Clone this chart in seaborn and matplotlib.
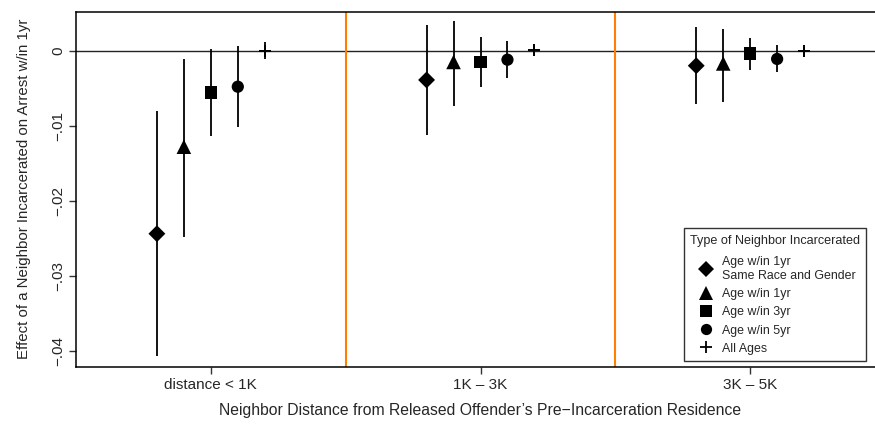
#!/usr/bin/env python
"""
  Neighbor incarceration effects on arrest, by distance band
"""

import matplotlib
matplotlib.use('Agg')
import matplotlib.pyplot as plt
from matplotlib.lines import Line2D
import seaborn as sns
import pandas as pd

# distance bands along the x axis
distances = ["distance < 1K", "1K \u2013 3K", "3K \u2013 5K"]

# neighbor types, in plotting order within each band
types = ["Age w/in 1yr\nSame Race and Gender", "Age w/in 1yr",
         "Age w/in 3yr", "Age w/in 5yr", "All Ages"]

# point estimates, one list per band (same order as types)
est_1k = [-0.0244, -0.0128, -0.0056, -0.0048, 0.0000]
est_3k = [-0.0039, -0.0015, -0.0015, -0.0012, 0.0001]
est_5k = [-0.0020, -0.0017, -0.0004, -0.0011, 0.0000]

# lower / upper confidence bounds
lo_1k = [-0.0407, -0.0249, -0.0114, -0.0102, -0.0011]
hi_1k = [-0.0081, -0.0011, 0.0002, 0.0006, 0.0011]
lo_3k = [-0.0112, -0.0074, -0.0048, -0.0036, -0.0006]
hi_3k = [0.0034, 0.0039, 0.0018, 0.0013, 0.0007]
lo_5k = [-0.0071, -0.0068, -0.0026, -0.0028, -0.0008]
hi_5k = [0.0031, 0.0029, 0.0017, 0.0007, 0.0005]

yticks = [0, -0.01, -0.02, -0.03, -0.04]
ytick_labels = ["0", "\u2212.01", "\u2212.02", "\u2212.03", "\u2212.04"]

markers = {types[0]: "D", types[1]: "^", types[2]: "s", types[3]: "o", types[4]: "+"}
msizes = {types[0]: 8.6, types[1]: 10.5, types[2]: 9.0, types[3]: 8.8, types[4]: 9.0}
offsets = [-0.2, -0.1, 0.0, 0.1, 0.2]


def build_frame():
  rows = []
  bands = [(est_1k, lo_1k, hi_1k), (est_3k, lo_3k, hi_3k), (est_5k, lo_5k, hi_5k)]
  for gi, (est, lo, hi) in enumerate(bands):
    for ti, t in enumerate(types):
      rows.append({"band": distances[gi], "type": t, "x": gi + 1 + offsets[ti],
                   "est": est[ti], "lo": lo[ti], "hi": hi[ti]})
  return pd.DataFrame(rows)


def main():
  sns.set_style("ticks")
  plt.rcParams['font.family'] = ['Liberation Sans', 'DejaVu Sans']

  df = build_frame()

  fig = plt.figure(figsize=(8.75, 4.33), dpi=100)
  ax = fig.add_axes([76 / 875, 66.3 / 433, 809 / 875, 355 / 433])

  # reference lines
  ax.axhline(0, color="#222222", lw=1.0, zorder=1)
  for xv in (1.5, 2.5):
    ax.axvline(xv, color="#ff8000", lw=1.5, zorder=1)

  # confidence intervals
  ax.vlines(df["x"], df["lo"], df["hi"], color="black", lw=1.3, zorder=2)

  # point estimates, one type at a time so filled and line markers can mix
  for t in types:
    sub = df[df["type"] == t]
    ms = msizes[t]
    if markers[t] == "+":
      sns.scatterplot(data=sub, x="x", y="est", marker="+", s=ms ** 2,
                      color="black", linewidth=1.4, ax=ax, zorder=3)
    else:
      sns.scatterplot(data=sub, x="x", y="est", marker=markers[t], s=ms ** 2,
                      color="black", edgecolor="none", ax=ax, zorder=3)

  ax.set_xlim(0.5, 3.5)
  ax.set_ylim(-0.04213, 0.0052)
  ax.set_xticks([1, 2, 3])
  ax.set_xticklabels(distances, fontsize=11)
  ax.set_yticks(yticks)
  ax.set_yticklabels(ytick_labels, fontsize=11, rotation=90, va="center")
  ax.tick_params(axis="both", length=5, width=1, color="#333333", pad=3)
  for sp in ax.spines.values():
    sp.set_linewidth(1.1)
    sp.set_color("black")
  ax.spines["right"].set_visible(False)
  ax.spines["top"].set_visible(True)

  ax.set_xlabel("Neighbor Distance from Released Offender\u2019s Pre\u2212Incarceration Residence",
                fontsize=11.3, labelpad=8)
  ax.set_ylabel("Effect of a Neighbor Incarcerated on Arrest w/in 1yr",
                fontsize=10.8, labelpad=14)

  handles = []
  for t in types:
    if markers[t] == "+":
      h = Line2D([], [], ls="none", marker="+", color="black", markersize=msizes[t] * 1.0,
                 markeredgewidth=1.3)
    else:
      h = Line2D([], [], ls="none", marker=markers[t], color="black",
                 markersize=msizes[t] * 0.92, markeredgewidth=0)
    handles.append(h)
  leg = ax.legend(handles, types, title="Type of Neighbor Incarcerated",
                  loc="lower left", bbox_to_anchor=(684 / 875, (433 - 361) / 433),
                  bbox_transform=fig.transFigure, fontsize=8.9, title_fontsize=9.1,
                  frameon=True, fancybox=False, edgecolor="#333333",
                  handletextpad=0.45, handlelength=1.7, labelspacing=0.5,
                  borderpad=0.5, borderaxespad=0)
  leg.get_frame().set_linewidth(1.0)
  leg.get_frame().set_alpha(1)
  leg._legend_box.sep = 7

  fig.savefig("out.png", dpi=100)


if __name__ == "__main__":
  main()
